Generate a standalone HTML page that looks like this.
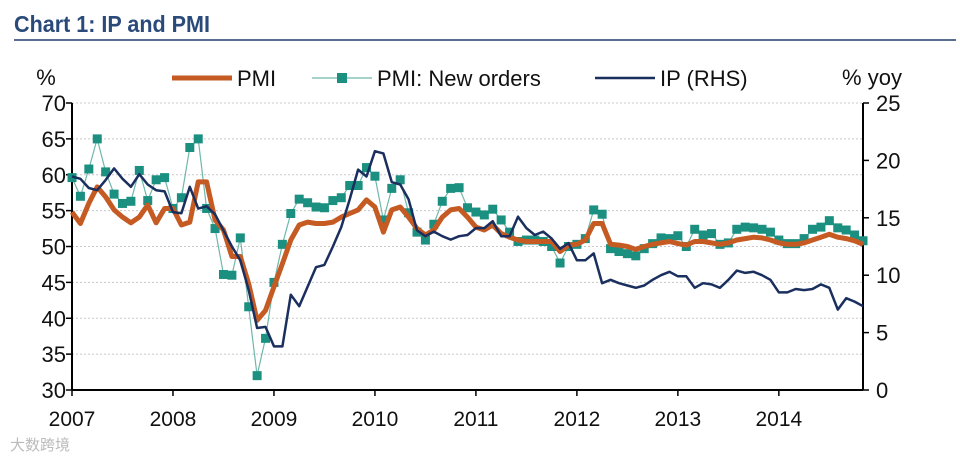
<!DOCTYPE html>
<html><head><meta charset="utf-8">
<style>
body{margin:0;background:#fff;width:960px;height:461px;overflow:hidden;font-family:"Liberation Sans",sans-serif}
svg{display:block}
</style></head><body>
<svg id="chart" width="960" height="461" viewBox="0 0 960 461" xmlns="http://www.w3.org/2000/svg">
<text x="14" y="32" font-family="Liberation Sans Narrow, Liberation Sans, sans-serif" font-weight="bold" font-size="23" fill="#2a4a7a" textLength="196" lengthAdjust="spacingAndGlyphs">Chart 1: IP and PMI</text>
<line x1="14" y1="40" x2="956" y2="40" stroke="#5a6f8f" stroke-width="2"/>
<text x="46" y="85" font-size="22" text-anchor="middle" fill="#111">%</text>
<text x="872" y="85" font-size="22" text-anchor="middle" fill="#111">% yoy</text>
<g>
<g><line x1="172" y1="78" x2="232" y2="78" stroke="#c55a22" stroke-width="5"/><text x="237" y="86" font-size="22" fill="#111">PMI</text></g>
<g><line x1="312" y1="78" x2="372" y2="78" stroke="#6fb7aa" stroke-width="1.2"/><rect x="337" y="73" width="10" height="10" fill="#1b9080"/><text x="377" y="86" font-size="22" fill="#111">PMI: New orders</text></g>
<g><line x1="595" y1="78" x2="655" y2="78" stroke="#1a2f5e" stroke-width="2.5"/><text x="660" y="86" font-size="22" fill="#111">IP (RHS)</text></g>
</g>
<g id="grid"></g><g id="axes"></g><g id="series"></g>
<text x="10" y="450" font-family="Liberation Sans, Noto Sans CJK SC, sans-serif" font-size="15" fill="#bbb">大数跨境</text>
</svg>
<script>
const yearLabels=["2007","2008","2009","2010","2011","2012","2013","2014"];
const leftTicks=[30,35,40,45,50,55,60,65,70];
const rightTicks=[0,5,10,15,20,25];
const pmi=[54.8,53.2,56,58.3,56.9,55.1,54.1,53.3,54.1,55.8,53.3,55.3,55.3,53,53.4,59,59,53.7,52.3,48.6,48.6,44.8,39.7,41.1,44.4,47.6,50.9,53,53.4,53.2,53.2,53.4,54.1,54.6,55.1,56.5,55.5,52,55.1,55.5,54.1,52.5,51.6,52.3,54.1,55.1,55.3,54.1,52.7,52.3,53,51.8,51.3,50.9,50.7,50.7,50.7,50.7,49.3,50.2,50.3,50.9,53.2,53.2,50.3,50.2,50,49.6,50,50.3,50.5,50.7,50.4,50.2,50.7,50.7,50.5,50.3,50.5,50.9,51.1,51.3,51.2,50.9,50.5,50.3,50.3,50.5,50.9,51.3,51.7,51.3,51.1,50.8,50.3];
const newOrders=[59.6,57,60.8,65,60.4,57.3,56,56.3,60.6,56.4,59.3,59.6,55.3,56.8,63.8,65,55.3,52.5,46.1,46,51.2,41.6,32,37.2,45,50.3,54.6,56.6,56.1,55.5,55.4,56.4,56.8,58.5,58.5,61,59.8,53.7,58.1,59.3,54.7,52,50.9,53.1,56.3,58.1,58.2,55.4,54.8,54.4,55.2,53.7,52,50.7,50.9,50.9,50.7,50,47.7,50,50.3,51.1,55.1,54.5,49.7,49.3,49,48.7,49.7,50.4,51.2,51.1,51.5,50,52.4,51.6,51.8,50.3,50.5,52.4,52.7,52.6,52.4,52,50.9,50.4,50.4,51.1,52.4,52.7,53.6,52.6,52.3,51.6,50.8];
const ip=[18.6,18.4,17.6,17.4,18.3,19.3,18.4,17.7,18.8,17.9,17.4,17.3,15.5,15.4,17.7,15.8,16,15.3,13.9,12.5,11.3,8.7,5.4,5.5,3.8,3.8,8.3,7.3,9,10.7,10.9,12.5,14.2,16.6,19.2,18.6,20.8,20.6,18.1,17.9,16.6,13.9,13.4,13.8,13.4,13.1,13.4,13.5,14.1,14.1,14.7,13.4,13.4,15.1,14.1,13.5,13.8,13.2,12.3,12.8,11.3,11.3,11.9,9.3,9.6,9.3,9.1,8.9,9.1,9.6,10,10.3,9.9,9.9,8.9,9.3,9.2,8.9,9.6,10.4,10.2,10.3,10,9.6,8.5,8.5,8.8,8.7,8.8,9.2,8.9,7,8,7.7,7.3];
const NS="http://www.w3.org/2000/svg";
const X0=72,X1=863,YT=103,YB=390,MPX=(X1-X0)/94;
const xs=i=>X0+i*MPX;
const yl=v=>YB-(v-30)/40*(YB-YT);
const yr=v=>YB-v/25*(YB-YT);
function mk(t,a,p){const e=document.createElementNS(NS,t);for(const k in a)e.setAttribute(k,a[k]);p.appendChild(e);return e;}
const grid=document.getElementById('grid'),axes=document.getElementById('axes'),ser=document.getElementById('series');
leftTicks.forEach(v=>{
 if(v>30){const g=mk('line',{x1:X0,x2:X1,y1:yl(v),y2:yl(v),stroke:'#c8c8c8','stroke-width':1,'stroke-dasharray':'2,2'},grid);
 
 }
 const t=mk('line',{x1:X0-6,x2:X0,y1:yl(v),y2:yl(v),stroke:'#000','stroke-width':1.5},axes);
 const l=mk('text',{x:X0-6,y:yl(v)+8,'text-anchor':'end','font-size':22,fill:'#111'},axes);l.textContent=v;
 
 
});
rightTicks.forEach(v=>{
 mk('line',{x1:X1,x2:X1+6,y1:yr(v),y2:yr(v),stroke:'#000','stroke-width':1.5},axes);
 const l=mk('text',{x:X1+13,y:yr(v)+8,'font-size':22,fill:'#111'},axes);l.textContent=v;
 
 
});
const la=mk('line',{x1:X0,x2:X0,y1:YT,y2:YB,stroke:'#000','stroke-width':2},axes);

const ra=mk('line',{x1:X1,x2:X1,y1:YT,y2:YB,stroke:'#000','stroke-width':2},axes);

const xa=mk('line',{x1:X0,x2:X1,y1:YB,y2:YB,stroke:'#000','stroke-width':2},axes);

yearLabels.forEach((y,k)=>{
 const x=xs(k*12);
 mk('line',{x1:x,x2:x,y1:YB,y2:YB+6,stroke:'#000','stroke-width':1.5},axes);
 const l=mk('text',{x:x,y:426,'text-anchor':'middle','font-size':21,fill:'#111'},axes);l.textContent=y;
 
 
});
function pts(arr,f){return arr.map((v,i)=>xs(i).toFixed(1)+','+f(v).toFixed(1)).join(' ');}
const no=mk('polyline',{points:pts(newOrders,yl),fill:'none',stroke:'#6fb7aa','stroke-width':1.2},ser);

newOrders.forEach((v,i)=>{const r=mk('rect',{x:xs(i)-4.5,y:yl(v)-4.5,width:9,height:9,fill:'#1b9080'},ser);
 
 });
const p=mk('polyline',{points:pts(pmi,yl),fill:'none',stroke:'#c55a22','stroke-width':5,'stroke-linejoin':'round'},ser);

const q=mk('polyline',{points:pts(ip,yr),fill:'none',stroke:'#1a2f5e','stroke-width':2.5,'stroke-linejoin':'round'},ser);

</script>
</body></html>
